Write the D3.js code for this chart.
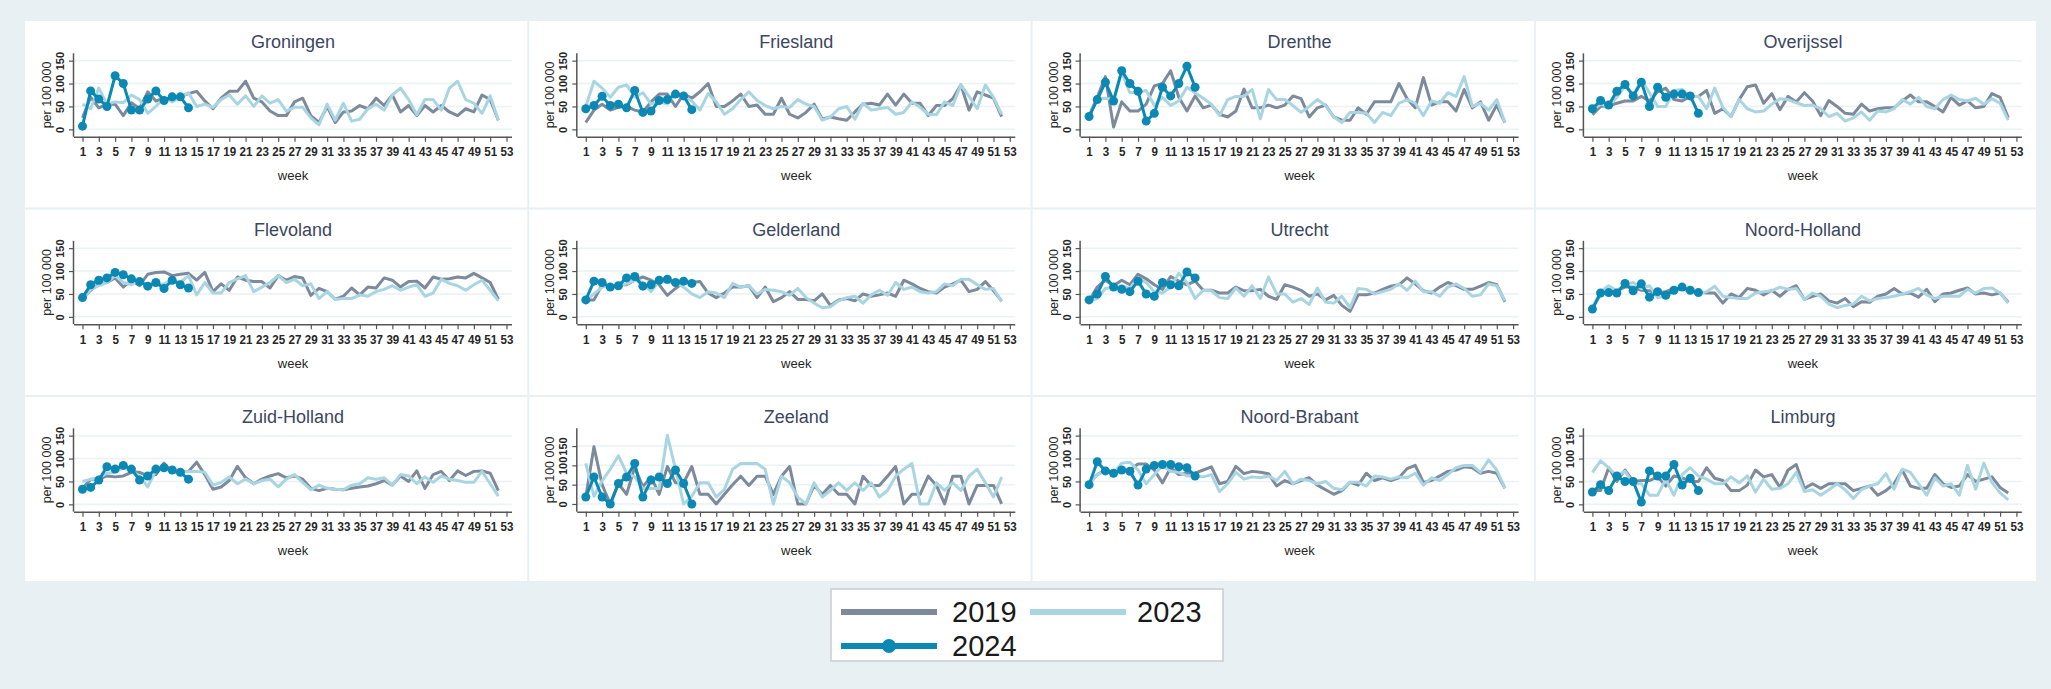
<!DOCTYPE html>
<html>
<head>
<meta charset="utf-8">
<script src="https://cdn.jsdelivr.net/npm/d3@7"></script>
<style>
  body { margin: 0; background: #e9f0f3; }
  svg { display: block; font-family: Arial, "Liberation Sans", sans-serif; }
</style>
</head>
<body>
<svg id="chart" width="2051" height="689"></svg>
<script>
// provinces, in panel order (row by row)
var provinces = ["Groningen", "Friesland", "Drenthe", "Overijssel",
                 "Flevoland", "Gelderland", "Utrecht", "Noord-Holland",
                 "Zuid-Holland", "Zeeland", "Noord-Brabant", "Limburg"];

var years = ["2019", "2023", "2024"];

// weekly values per 100 000, weeks 1..52, one row per province
var y2019 = [
  [25,70,47,55,55,30,58,45,82,62,68,65,72,78,83,62,45,68,83,83,105,68,60,40,30,30,60,68,30,15,50,15,38,40,52,45,68,52,75,38,52,30,52,38,52,38,30,45,38,75,65,20],
  [15,42,55,42,48,50,42,38,60,77,77,50,77,68,82,100,50,50,62,77,50,53,33,33,68,33,25,37,55,22,27,23,20,38,55,57,53,77,53,77,57,57,30,52,52,67,97,42,82,75,68,28],
  [30,70,115,5,60,40,40,55,95,100,128,70,40,73,47,53,33,27,40,88,47,47,53,47,53,73,67,27,47,53,27,20,20,47,33,60,60,60,100,67,47,113,53,60,60,40,87,47,60,20,53,15],
  [32,50,52,57,62,62,72,62,82,90,65,62,72,72,85,35,45,28,65,93,97,57,78,43,72,60,80,62,30,63,50,35,33,55,40,45,47,47,62,75,60,60,50,38,70,53,62,47,50,78,70,25],
  [40,58,72,75,85,65,80,68,93,97,98,90,93,95,80,97,55,72,58,87,80,77,77,63,90,80,88,85,47,62,55,38,45,63,48,65,63,85,80,65,77,78,63,87,82,83,87,85,95,85,75,38],
  [37,37,70,67,70,70,80,87,80,70,47,62,75,75,77,52,42,52,65,65,68,42,65,33,42,55,38,38,35,50,25,37,40,35,50,45,48,52,45,80,72,62,55,52,65,72,80,55,60,77,57,35],
  [35,65,80,68,80,70,93,83,70,60,88,78,70,78,58,58,52,52,65,57,57,60,45,38,70,65,58,45,50,37,47,25,12,48,48,52,60,67,70,85,72,57,52,65,75,68,60,60,67,75,70,33],
  [20,50,55,57,65,65,58,57,52,55,62,62,55,55,52,52,30,50,42,62,58,48,58,45,60,68,38,45,50,35,30,40,22,33,32,45,50,62,50,52,43,60,33,50,52,58,63,50,52,48,52,32],
  [35,55,55,62,60,62,70,70,62,65,90,70,72,72,92,65,33,38,52,83,58,45,55,62,67,58,62,55,35,30,35,33,32,35,38,40,45,52,42,62,50,73,35,65,72,52,73,63,72,73,68,30],
  [18,148,50,0,53,25,95,45,70,25,97,55,55,97,25,25,0,25,50,72,48,72,72,25,72,97,0,0,48,25,48,25,25,0,72,48,48,72,97,0,25,25,72,48,0,72,72,0,48,48,48,0],
  [45,65,75,70,72,75,88,88,75,47,80,65,68,68,75,82,45,50,83,67,72,70,67,40,52,45,52,58,42,32,22,30,48,42,68,52,58,52,58,78,85,48,52,62,72,75,82,80,68,72,68,35],
  [30,30,80,50,75,50,52,52,60,40,62,58,50,50,80,57,52,30,30,42,75,60,65,37,75,87,35,45,35,45,45,45,30,35,40,20,30,45,75,40,35,35,65,45,37,40,65,50,55,60,37,25]
];

var y2023 = [
  [55,45,90,55,60,58,75,65,35,50,70,60,70,80,50,55,48,65,75,55,73,50,73,57,65,40,48,48,25,10,55,20,57,18,22,45,55,42,75,90,65,32,65,65,42,90,105,65,57,35,73,20],
  [50,105,90,70,92,97,70,80,55,60,55,78,73,62,42,78,60,33,45,65,82,63,52,45,50,48,65,55,50,20,27,45,50,22,57,42,45,48,33,37,60,48,33,32,60,52,97,72,45,97,70,33],
  [30,65,68,65,125,80,80,85,52,70,52,62,92,80,68,55,30,65,72,72,87,23,87,65,65,52,37,50,65,52,27,15,37,37,35,15,37,30,57,65,57,30,62,57,80,72,115,50,57,42,65,15],
  [42,55,50,70,95,75,108,80,50,50,85,87,72,72,45,90,48,28,65,45,38,40,55,67,65,58,52,53,45,28,35,18,25,38,20,40,38,45,65,55,70,50,45,65,75,65,62,68,55,67,57,20],
  [40,60,68,75,90,75,70,80,68,70,72,80,75,90,48,75,52,52,75,83,90,55,65,75,90,75,82,68,72,40,55,38,40,40,48,45,55,60,68,58,65,70,45,52,82,73,68,58,70,80,58,35],
  [35,50,65,68,68,72,80,75,55,78,75,75,65,50,42,55,52,42,73,65,68,50,60,58,55,47,62,42,30,20,22,35,42,45,30,48,58,47,75,60,65,55,52,55,72,68,82,82,70,60,62,33],
  [35,40,62,65,68,62,85,75,55,52,65,95,75,40,58,57,42,40,63,45,68,40,87,50,50,32,40,27,63,32,30,45,20,62,60,50,55,60,72,58,78,55,55,45,65,72,62,45,48,72,68,35],
  [20,55,68,57,70,75,62,68,42,45,55,62,55,50,55,67,45,42,40,40,52,55,57,65,60,62,38,52,45,28,20,25,28,45,35,40,42,45,50,55,62,48,40,45,45,45,60,52,62,63,52,30],
  [50,55,58,68,70,80,72,62,38,75,85,70,70,72,72,70,42,48,60,45,55,45,52,55,38,55,65,48,32,42,35,33,32,42,45,58,55,58,42,65,62,45,60,48,62,55,52,48,48,72,45,18],
  [105,20,60,90,125,80,70,40,40,40,178,90,0,20,55,55,18,38,90,105,105,105,90,0,72,55,18,0,55,18,35,55,35,55,35,55,18,35,72,90,105,0,0,55,35,55,35,72,90,55,18,70],
  [43,65,72,68,90,92,75,45,65,85,72,70,62,62,60,65,28,45,70,55,60,58,62,52,72,45,55,52,45,50,35,32,48,48,40,62,60,55,60,58,68,42,58,52,65,80,85,85,70,97,75,35],
  [70,95,80,62,72,45,45,20,20,55,20,65,80,62,55,45,45,60,47,62,27,55,33,35,45,70,28,32,20,32,45,32,13,32,40,45,67,33,77,70,45,20,58,40,45,20,85,33,90,48,25,10]
];

// 2024: weeks 1..14
var y2024 = [
  [7,84,66,50,117,100,42,42,66,84,63,71,71,47],
  [45,52,72,52,55,47,85,37,40,63,65,77,73,43],
  [28,65,103,62,128,100,83,18,35,92,73,100,138,92],
  [45,63,53,83,98,73,103,50,92,70,77,77,73,35],
  [42,70,80,85,97,92,83,77,67,75,62,80,70,63],
  [37,78,75,65,68,85,88,67,70,80,82,75,78,73],
  [37,50,88,65,60,55,78,50,45,75,70,68,98,85],
  [17,52,53,52,73,57,72,43,55,47,58,65,58,53],
  [33,37,53,82,77,85,77,53,62,77,80,75,70,55],
  [18,70,18,0,53,70,105,18,62,70,53,88,53,0],
  [43,93,73,68,75,72,42,77,85,87,87,82,80,62],
  [27,43,30,62,50,50,5,73,62,62,87,42,57,30]
];

// y-axis range per panel (Zeeland gets a taller scale)
var yRanges = [[-16,166],[-16,166],[-16,166],[-16,166],
               [-16,166],[-16,166],[-16,166],[-16,166],
               [-16,166],[-20,196],[-16,166],[-16,166]];

var yTicks = [0, 50, 100, 150];
var xTicks = d3.range(1, 54, 2);

var colors = {"2019": "#7c8a9b", "2023": "#a9d5e2", "2024": "#0b88b4"};
var inkColor = "#262626";

var svg = d3.select("#chart");

// white plotting region
svg.append("rect")
    .attr("x", 25).attr("y", 21)
    .attr("width", 2011).attr("height", 560)
    .attr("fill", "#ffffff");

var panelW = 503.3, panelH = 187.5;

// panel dividers
svg.selectAll(".vdiv")
    .data([1, 2, 3])
  .enter().append("line")
    .attr("x1", function(d) { return 25 + d * panelW; })
    .attr("x2", function(d) { return 25 + d * panelW; })
    .attr("y1", 21).attr("y2", 581)
    .attr("stroke", "#e9f0f3").attr("stroke-width", 2);

svg.selectAll(".hdiv")
    .data([1, 2])
  .enter().append("line")
    .attr("x1", 25).attr("x2", 2036)
    .attr("y1", function(d) { return 21 + d * panelH; })
    .attr("y2", function(d) { return 21 + d * panelH; })
    .attr("stroke", "#e9f0f3").attr("stroke-width", 2);

provinces.forEach(function(name, i) {
  var col = i % 4, row = Math.floor(i / 4);
  var px = 25 + col * panelW, py = 21 + row * panelH;

  var g = svg.append("g").attr("transform", "translate(" + px + "," + py + ")");

  var x = d3.scaleLinear().domain([1, 53]).range([57.5, 481.5]);
  var y = d3.scaleLinear().domain(yRanges[i]).range([115.7, 32.3]);

  // gridlines
  g.selectAll(".grid")
      .data(yTicks)
    .enter().append("line")
      .attr("x1", 49).attr("x2", 487)
      .attr("y1", function(d) { return y(d); })
      .attr("y2", function(d) { return y(d); })
      .attr("stroke", "#eaf2f4").attr("stroke-width", 1.5);

  // title
  g.append("text")
      .attr("x", 268).attr("y", 27)
      .attr("text-anchor", "middle")
      .attr("font-size", 18)
      .attr("fill", "#3b4661")
      .text(name);

  // x axis
  var xAxis = d3.axisBottom(x).tickValues(xTicks).tickSize(5).tickPadding(4).tickSizeOuter(0);
  var gx = g.append("g").attr("transform", "translate(0,115.7)").call(xAxis);
  gx.select(".domain").attr("d", "M49,0.5H487").attr("stroke", "#555").attr("stroke-width", 1.5);
  gx.selectAll(".tick line").attr("stroke", "#555").attr("stroke-width", 1.2);
  gx.selectAll(".tick text")
      .attr("y", 10).attr("dy", "0.71em")
      .attr("transform", "scale(0.86,1)")
      .attr("font-size", 13.5).attr("font-weight", "bold")
      .attr("font-family", "Arial, 'Liberation Sans', sans-serif")
      .attr("fill", inkColor);

  // y axis
  var yAxis = d3.axisLeft(y).tickValues(yTicks).tickSize(5).tickSizeOuter(0);
  var gy = g.append("g").attr("transform", "translate(49,0)").call(yAxis);
  gy.select(".domain").attr("d", "M-0.5,32.3V115.7").attr("stroke", "#555").attr("stroke-width", 1.5);
  gy.selectAll(".tick line").attr("stroke", "#555").attr("stroke-width", 1.2);
  gy.selectAll(".tick text")
      .attr("x", 0).attr("dy", null)
      .attr("transform", "translate(-10,0) rotate(-90)")
      .attr("text-anchor", "middle")
      .attr("font-size", 11).attr("font-weight", "bold")
      .attr("font-family", "Arial, 'Liberation Sans', sans-serif")
      .attr("fill", inkColor);

  // axis titles
  g.append("text")
      .attr("transform", "translate(26,74) rotate(-90)")
      .attr("text-anchor", "middle")
      .attr("font-size", 12.5)
      .attr("fill", inkColor)
      .text("per 100 000");

  g.append("text")
      .attr("x", 268).attr("y", 159)
      .attr("text-anchor", "middle")
      .attr("font-size", 13)
      .attr("fill", inkColor)
      .text("week");

  var line = d3.line()
      .x(function(d, k) { return x(k + 1); })
      .y(function(d) { return y(d); });

  [y2019[i], y2023[i], y2024[i]].forEach(function(series, k) {
    g.append("path")
        .datum(series)
        .attr("d", line)
        .attr("fill", "none")
        .attr("stroke", colors[years[k]])
        .attr("stroke-width", 3)
        .attr("stroke-linejoin", "round");
  });

  g.selectAll(".dot")
      .data(y2024[i])
    .enter().append("circle")
      .attr("cx", function(d, k) { return x(k + 1); })
      .attr("cy", function(d) { return y(d); })
      .attr("r", 4.5)
      .attr("fill", colors["2024"]);
});

// legend
var legend = svg.append("g");
legend.append("rect")
    .attr("x", 831).attr("y", 589)
    .attr("width", 392).attr("height", 72)
    .attr("fill", "#ffffff")
    .attr("stroke", "#c8cdd2").attr("stroke-width", 1.5);

var legendItems = [
  {year: "2019", lx: 841, ly: 612, tx: 952},
  {year: "2023", lx: 1030, ly: 612, tx: 1137},
  {year: "2024", lx: 841, ly: 646, tx: 952}
];

legendItems.forEach(function(d) {
  legend.append("line")
      .attr("x1", d.lx).attr("x2", d.lx + 96)
      .attr("y1", d.ly).attr("y2", d.ly)
      .attr("stroke", colors[d.year]).attr("stroke-width", 6);
  if (d.year === "2024") {
    legend.append("circle")
        .attr("cx", d.lx + 48).attr("cy", d.ly).attr("r", 7)
        .attr("fill", colors[d.year]);
  }
  legend.append("text")
      .attr("x", d.tx).attr("y", d.ly + 10)
      .attr("font-size", 29)
      .attr("fill", "#1a1a1a")
      .text(d.year);
});
</script>
</body>
</html>
